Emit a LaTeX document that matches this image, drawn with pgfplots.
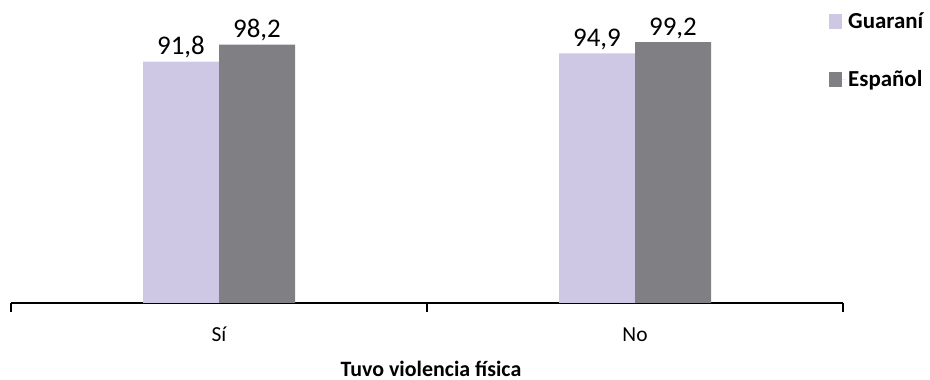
\documentclass[border=0pt]{standalone}
\usepackage{pgfplots}
\pgfplotsset{compat=1.18}
\usepackage{fontspec}
\setmainfont{Carlito}
\definecolor{guarani}{RGB}{207,200,228}
\definecolor{espanol}{RGB}{128,128,132}
\begin{document}
\begin{tikzpicture}
\path[use as bounding box] (0,0) rectangle (930bp,380bp);
\begin{axis}[
  at={(11bp,77bp)}, anchor=south west,
  scale only axis, width=832bp, height=289.3bp,
  xmin=-0.5, xmax=1.5, ymin=0, ymax=110,
  axis x line=bottom, axis y line=none,
  x axis line style={-, line width=1.2bp, black},
  xtick={0,1}, xticklabels={Sí,No},
  major tick length=0pt,
  extra x ticks={-0.5,0.5,1.5}, extra x tick labels={},
  extra x tick style={major tick length=9bp, tick align=outside,
    tick style={black, line width=1.2bp}},
  xticklabel style={font=\fontsize{21.5}{25}\selectfont, anchor=north,
    inner sep=0pt, text height=14bp, text depth=4bp, yshift=-24bp},
  xlabel={Tuvo violencia física},
  xlabel style={font=\fontsize{22}{26}\selectfont\bfseries,
    at={(axis description cs:0.5,0)}, anchor=base, xshift=4bp, yshift=-73bp},
  ybar, bar width=76bp,
  nodes near coords,
  nodes near coords style={font=\fontsize{27}{32}\selectfont, text=black},
  /pgf/number format/use comma,
  /pgf/number format/fixed,
  /pgf/number format/fixed zerofill,
  /pgf/number format/precision=1,
  /pgf/number format/assume math mode=true,
  legend style={at={(axis description cs:0.9832,1.01)}, anchor=north west,
    draw=none, fill=none, inner sep=0pt, row sep=36bp,
    font=\fontsize{23}{27}\selectfont\bfseries,
    nodes={inner sep=2bp, anchor=west}},
  legend image code/.code={\fill[#1] (0bp,-7.5bp) rectangle (13bp,7.5bp);
    \path (13bp,0) -- (17bp,0);},
]
\addplot[fill=guarani, draw=none, bar shift=-38bp] coordinates {(0,91.8) (1,94.9)};
\addplot[fill=espanol, draw=none, bar shift=38bp] coordinates {(0,98.2) (1,99.2)};
\legend{Guaraní, Español}
\end{axis}
\end{tikzpicture}
\end{document}
